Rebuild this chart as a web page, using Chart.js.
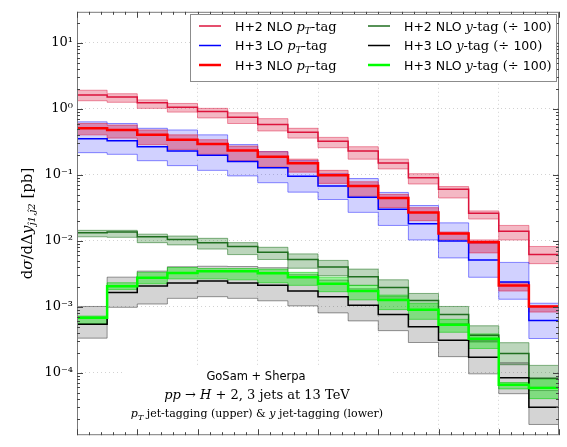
<!DOCTYPE html>
<html>
<head>
<meta charset="utf-8">
<script src="https://cdn.jsdelivr.net/npm/chart.js@4.4.1/dist/chart.umd.min.js"></script>
<style>
  html, body { margin: 0; padding: 0; background: #fff; }
  #grafico { display: block; }
</style>
</head>
<body>
<canvas id="grafico" width="567" height="447"></canvas>
<script>
// bordes de los bins en Δy
const edges = [0, 0.5, 1, 1.5, 2, 2.5, 3, 3.5, 4, 4.5, 5, 5.5, 6, 6.5, 7, 7.5, 8];

// pT-tag (pb)
const h2NloPt   = [1.63, 1.52, 1.24, 1.06, 0.91, 0.745, 0.58, 0.443, 0.323, 0.23, 0.151, 0.090, 0.0605, 0.0262, 0.0139, 0.0062];
const h2NloPtUp = [1.92, 1.70, 1.37, 1.21, 1.02, 0.873, 0.712, 0.508, 0.370, 0.267, 0.173, 0.104, 0.0664, 0.0284, 0.0171, 0.0082];
const h2NloPtDn = [1.33, 1.26, 1.02, 0.894, 0.73, 0.601, 0.463, 0.361, 0.258, 0.173, 0.123, 0.0727, 0.0446, 0.0214, 0.0103, 0.0045];

const h3LoPt   = [0.353, 0.33, 0.267, 0.23, 0.199, 0.16, 0.128, 0.0953, 0.068, 0.0457, 0.0301, 0.0181, 0.0099, 0.0051, 0.00237, 0.00062];
const h3LoPtUp = [0.637, 0.601, 0.508, 0.479, 0.404, 0.288, 0.225, 0.164, 0.104, 0.088, 0.0541, 0.0343, 0.0187, 0.0092, 0.0047, 0.00113];
const h3LoPtDn = [0.217, 0.205, 0.164, 0.138, 0.117, 0.0964, 0.076, 0.0547, 0.0423, 0.027, 0.0171, 0.0103, 0.0055, 0.0028, 0.0013, 0.00033];

const h3NloPt   = [0.507, 0.48, 0.405, 0.341, 0.295, 0.235, 0.188, 0.15, 0.0986, 0.068, 0.0447, 0.0268, 0.0129, 0.0095, 0.0021, 0.00101];
const h3NloPtUp = [0.601, 0.568, 0.479, 0.404, 0.341, 0.273, 0.225, 0.173, 0.117, 0.0786, 0.0506, 0.0318, 0.0136, 0.0103, 0.00231, 0.00103];
const h3NloPtDn = [0.404, 0.361, 0.288, 0.243, 0.205, 0.164, 0.131, 0.110, 0.0742, 0.0473, 0.032, 0.0202, 0.0103, 0.00655, 0.00173, 0.00083];

// y-tag (pb, ÷ 100)
const h2NloY   = [0.0132, 0.0136, 0.0115, 0.0105, 0.00937, 0.00818, 0.00668, 0.0052, 0.00402, 0.00286, 0.00195, 0.00124, 0.000764, 0.00037, 0.000196, 0.000082];
const h2NloYUp = [0.0144, 0.0144, 0.0126, 0.0118, 0.0109, 0.00937, 0.00797, 0.00633, 0.00504, 0.00372, 0.00256, 0.00159, 0.00101, 0.000514, 0.000285, 0.000129];
const h2NloYDn = [0.0115, 0.0113, 0.00937, 0.00867, 0.0075, 0.00618, 0.00521, 0.00384, 0.00296, 0.00211, 0.00142, 0.000904, 0.000543, 0.000292, 0.000132, 0.00006];

const h3LoY   = [0.000543, 0.00165, 0.00207, 0.00229, 0.00245, 0.00229, 0.00211, 0.00174, 0.00142, 0.00105, 0.000764, 0.000497, 0.000309, 0.000171, 0.000084, 0.0000298];
const h3LoYUp = [0.00101, 0.00281, 0.00347, 0.00404, 0.00411, 0.00407, 0.00391, 0.00306, 0.00253, 0.00187, 0.00136, 0.000888, 0.000546, 0.000305, 0.000141, 0.0000536];
const h3LoYDn = [0.000334, 0.00098, 0.0011, 0.00134, 0.00142, 0.00134, 0.00123, 0.00103, 0.000807, 0.00061, 0.000434, 0.000287, 0.000175, 0.000096, 0.000048, 0.0000164];

const h3NloY   = [0.000682, 0.00204, 0.00274, 0.00324, 0.00344, 0.00344, 0.00321, 0.0028, 0.00223, 0.00174, 0.00127, 0.000904, 0.000532, 0.000327, 0.0000656, 0.0000587];
const h3NloYUp = [0.000722, 0.00231, 0.00332, 0.00394, 0.0038, 0.0038, 0.00372, 0.00332, 0.00281, 0.00211, 0.0015, 0.00113, 0.000644, 0.000387, 0.000071, 0.0000796];
const h3NloYDn = [0.000556, 0.00182, 0.00223, 0.00265, 0.00265, 0.00256, 0.00231, 0.00211, 0.00169, 0.00127, 0.000904, 0.000644, 0.00041, 0.000233, 0.0000568, 0.0000404];

// límites del eje y
const yMin = 1.127e-5;
const yMax = 29.7;

// etiquetas de la leyenda (texto, estilo)
const legendLeft = [
    [['H+2 NLO ', 'sans'], ['p', 'it'], ['T', 'sub'], ['-tag', 'rm']],
    [['H+3 LO ', 'sans'], ['p', 'it'], ['T', 'sub'], ['-tag', 'rm']],
    [['H+3 NLO ', 'sans'], ['p', 'it'], ['T', 'sub'], ['-tag', 'rm']]
];
const legendRight = [
    [['H+2 NLO ', 'sans'], ['y', 'it'], ['-tag (÷ ', 'rm'], ['100', 'sans'], [')', 'rm']],
    [['H+3 LO ', 'sans'], ['y', 'it'], ['-tag (÷ ', 'rm'], ['100', 'sans'], [')', 'rm']],
    [['H+3 NLO ', 'sans'], ['y', 'it'], ['-tag (÷ ', 'rm'], ['100', 'sans'], [')', 'rm']]
];

const series = [
    { name: 'H+2 NLO pT-tag', c: h2NloPt, up: h2NloPtUp, dn: h2NloPtDn, color: '#dc143c', fill: 'rgba(220,20,60,0.30)', edge: 'rgba(220,20,60,0.45)', w: 1.5 },
    { name: 'H+3 LO pT-tag', c: h3LoPt, up: h3LoPtUp, dn: h3LoPtDn, color: '#0000ff', fill: 'rgba(0,0,255,0.18)', edge: 'rgba(0,0,255,0.45)', w: 1.5 },
    { name: 'H+3 NLO pT-tag', c: h3NloPt, up: h3NloPtUp, dn: h3NloPtDn, color: '#ff0000', fill: 'rgba(220,20,60,0.40)', edge: 'rgba(220,20,60,0.5)', w: 2.5 },
    { name: 'H+2 NLO y-tag', c: h2NloY, up: h2NloYUp, dn: h2NloYDn, color: '#1f6e1f', fill: 'rgba(34,119,34,0.30)', edge: 'rgba(34,119,34,0.55)', w: 1.5 },
    { name: 'H+3 LO y-tag', c: h3LoY, up: h3LoYUp, dn: h3LoYDn, color: '#000000', fill: 'rgba(0,0,0,0.17)', edge: 'rgba(0,0,0,0.4)', w: 1.5 },
    { name: 'H+3 NLO y-tag', c: h3NloY, up: h3NloYUp, dn: h3NloYDn, color: '#00ff00', fill: 'rgba(0,230,0,0.40)', edge: 'rgba(0,200,0,0.55)', w: 2.5 }
];

function steps(vals) {
    return edges.map((x, i) => ({ x: x, y: vals[Math.min(i, vals.length - 1)] }));
}

const datasets = [];
series.forEach((s, i) => {
    datasets.push({ data: steps(s.up), borderColor: s.edge, borderWidth: 1, backgroundColor: s.fill, fill: '+1', stepped: true, pointRadius: 0, order: 30 - i });
    datasets.push({ data: steps(s.dn), borderColor: s.edge, borderWidth: 1, fill: false, stepped: true, pointRadius: 0, order: 30 - i });
});
series.forEach((s, i) => {
    datasets.push({ label: s.name, data: steps(s.c), borderColor: s.color, borderWidth: s.w, fill: false, stepped: true, pointRadius: 0, order: 10 - i });
});

const FONTS = {
    sans: '12.5px "DejaVu Sans"',
    rm: '13px "DejaVu Serif"',
    it: 'italic 13px "DejaVu Serif"',
    sub: 'italic 9px "DejaVu Serif"'
};

function drawParts(ctx, parts, x, y, center, fonts) {
    let w = 0;
    parts.forEach(p => { ctx.font = fonts[p[1]]; w += ctx.measureText(p[0]).width; });
    let cx = center ? x - w / 2 : x;
    ctx.textAlign = 'left';
    ctx.textBaseline = 'alphabetic';
    parts.forEach(p => {
        ctx.font = fonts[p[1]];
        ctx.fillText(p[0], cx, y + (p[1] === 'sub' ? 3 : 0));
        cx += ctx.measureText(p[0]).width;
    });
}

function isPow10(v) {
    const e = Math.log10(v);
    return Math.abs(e - Math.round(e)) < 1e-6;
}

const SUP = { '-': '⁻', '0': '⁰', '1': '¹', '2': '²', '3': '³', '4': '⁴', '5': '⁵' };

const decor = {
    id: 'decor',
    beforeDatasetsDraw(chart) {
        // caja blanca bajo el texto
        const ctx = chart.ctx;
        ctx.save();
        ctx.fillStyle = '#fff';
        ctx.fillRect(123, 366, 269, chart.chartArea.bottom - 366);
        ctx.restore();
    },
    afterDatasetsDraw(chart) {
        const ctx = chart.ctx;
        const a = chart.chartArea;
        const xs = chart.scales.x, ys = chart.scales.y;
        ctx.save();

        // marco
        ctx.strokeStyle = '#7a7a7a';
        ctx.lineWidth = 1;
        ctx.strokeRect(a.left + 0.5, a.top + 0.5, a.right - a.left - 1, a.bottom - a.top - 1);

        // marcas hacia dentro
        ctx.strokeStyle = '#444';
        ctx.beginPath();
        for (let e = -5; e <= 1; e++) {
            for (let m = 1; m <= 9; m++) {
                const v = m * Math.pow(10, e);
                if (v < yMin || v > yMax) continue;
                const y = Math.round(ys.getPixelForValue(v)) + 0.5;
                const len = m === 1 ? 6 : 3;
                ctx.moveTo(a.left, y); ctx.lineTo(a.left + len, y);
                ctx.moveTo(a.right, y); ctx.lineTo(a.right - len, y);
            }
        }
        for (let k = 0; k <= 40; k++) {
            const x = Math.round(xs.getPixelForValue(k * 0.2)) + 0.5;
            const len = k % 5 === 0 ? 6 : 3;
            ctx.moveTo(x, a.top); ctx.lineTo(x, a.top + len);
            ctx.moveTo(x, a.bottom); ctx.lineTo(x, a.bottom - len);
        }
        ctx.stroke();

        // leyenda
        ctx.fillStyle = '#fff';
        ctx.fillRect(190, 14, 367, 68);
        ctx.strokeStyle = '#8c8c8c';
        ctx.strokeRect(190.5, 14.5, 366, 67);
        const rows = [26, 45.5, 65];
        ctx.fillStyle = '#000';
        [legendLeft, legendRight].forEach((col, ci) => {
            const x0 = ci === 0 ? 199 : 368;
            const tx = ci === 0 ? 235 : 404;
            col.forEach((parts, ri) => {
                const s = series[ci * 3 + ri];
                ctx.strokeStyle = s.color;
                ctx.lineWidth = s.w;
                ctx.beginPath();
                ctx.moveTo(x0, rows[ri]); ctx.lineTo(x0 + 22, rows[ri]);
                ctx.stroke();
                ctx.fillStyle = '#000';
                drawParts(ctx, parts, tx, rows[ri] + 4.5, false, FONTS);
            });
        });

        // texto de la figura
        const f2 = { sans: '11.5px "DejaVu Sans"', rm: '13px "DejaVu Serif"', it: 'italic 13px "DejaVu Serif"', sub: 'italic 8px "DejaVu Serif"' };
        const f3 = { rm: '11px "DejaVu Serif"', it: 'italic 11px "DejaVu Serif"', sub: 'italic 8px "DejaVu Serif"' };
        drawParts(ctx, [['GoSam + Sherpa', 'sans']], 256, 380, true, f2);
        drawParts(ctx, [['pp', 'it'], [' → ', 'rm'], ['H', 'it'], [' + 2, 3 jets at 13 TeV', 'rm']], 257, 398.5, true, f2);
        drawParts(ctx, [['p', 'it'], ['T', 'sub'], [' jet-tagging (upper) & ', 'rm'], ['y', 'it'], [' jet-tagging (lower)', 'rm']], 257, 417, true, f3);

        // título del eje y
        const ft = { rm: '15px "DejaVu Serif"', it: 'italic 15px "DejaVu Serif"', sub: 'italic 10px "DejaVu Serif"' };
        ctx.translate(32, (a.top + a.bottom) / 2);
        ctx.rotate(-Math.PI / 2);
        drawParts(ctx, [['d', 'rm'], ['σ', 'it'], ['/dΔ', 'rm'], ['y', 'it'], ['ĵ1,ĵ2', 'sub'], [' [pb]', 'rm']], 0, 0, true, ft);
        ctx.restore();
    }
};

new Chart(document.getElementById('grafico'), {
    type: 'line',
    data: { datasets: datasets },
    options: {
        responsive: false,
        animation: false,
        devicePixelRatio: 1,
        layout: { padding: { top: 10, right: 8, bottom: 0, left: 0 } },
        plugins: {
            legend: { display: false },
            tooltip: { enabled: false }
        },
        scales: {
            x: {
                type: 'linear', min: 0, max: 8,
                ticks: { display: false, stepSize: 1 },
                grid: {
                    drawTicks: false,
                    color: c => (c.tick && c.tick.value >= 2 && c.tick.value <= 7) ? '#d2d2d2' : 'rgba(0,0,0,0)'
                },
                border: { display: false, dash: [1, 3] },
                afterFit: s => { s.height = 1; }
            },
            y: {
                type: 'logarithmic', min: yMin, max: yMax, bounds: 'data',
                ticks: {
                    autoSkip: false,
                    padding: 4,
                    color: '#000',
                    font: { family: 'DejaVu Serif', size: 13 },
                    callback: v => {
                        if (!isPow10(v)) return '';
                        const e = String(Math.round(Math.log10(v)));
                        return '10' + e.split('').map(ch => SUP[ch]).join('');
                    }
                },
                grid: {
                    drawTicks: false,
                    color: c => (c.tick && isPow10(c.tick.value)) ? '#d2d2d2' : 'rgba(0,0,0,0)'
                },
                border: { display: false, dash: [1, 3] },
                afterFit: s => { s.width = 77; }
            }
        }
    },
    plugins: [decor]
});
</script>
</body>
</html>
